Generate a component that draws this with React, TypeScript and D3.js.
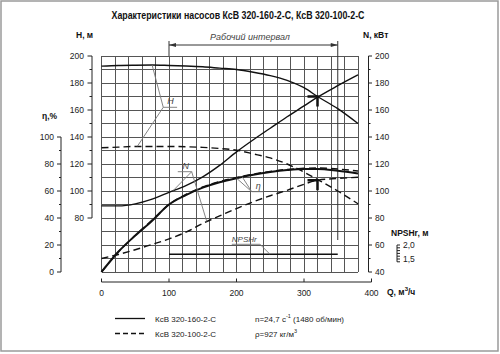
import React from "react";
import * as d3 from "d3";

// ---- data ----
const qs = [0, 25, 50, 75, 100, 125, 150, 175, 200, 225, 250, 275, 300, 320, 350, 380];
const head160 = [192.5, 193, 193.2, 193.3, 193, 192.6, 192, 191, 190, 188, 185.5, 182, 176.5, 170, 161, 150];
const head100 = [132, 132.5, 133, 133, 133, 132.8, 132.3, 131.5, 130.2, 127.5, 124.5, 120, 114, 108.5, 100, 90.5];
const power160 = [89, 89, 90.5, 94, 99, 104, 110.5, 119, 129, 138, 146.5, 155, 163, 169.5, 178, 186];
const power100 = [50, 53, 56.5, 60.5, 64.5, 69.5, 76, 81.5, 87, 92, 96.5, 100.5, 105, 108, 109.3, 110.2];
const eff160 = [0, 15, 27, 38, 50, 57, 62.5, 66.5, 69.5, 72, 74, 75.5, 76.3, 76.3, 75, 73];
const eff100 = [0, 15, 27, 38.5, 50, 57.5, 63, 67, 70, 72.5, 74.5, 76, 76.8, 77, 76.3, 74.8];
const npshQ = [100, 350];
const npshVal = [1.67, 1.67];
const workRange = [100, 350];
const opQ = 320;

const hTicks = [80, 100, 120, 140, 160, 180, 200];
const nTicks = [40, 60, 80, 100, 120, 140, 160, 180, 200];
const etaTicks = [0, 20, 40, 60, 80, 100];
const qTicks = [0, 100, 200, 300, 400];
const npshLabels = ["2,0", "1,5"];
const npshLabelVals = [2.0, 1.5];

const FONT = "'Liberation Sans', Arial, sans-serif";

export default function App() {
  const x = d3.scaleLinear().domain([0, 380]).range([101.5, 358]);
  const yM = d3.scaleLinear().domain([40, 200]).range([272, 56]);
  const yE = d3.scaleLinear().domain([0, 100]).range([272, 137]);
  const yN = d3.scaleLinear().domain([1.5, 2.0]).range([259, 245]);

  const mk = (vals: number[], ys: (v: number) => number) =>
    d3
      .line<number>()
      .x((_, i) => x(qs[i]))
      .y((v) => ys(v))
      .curve(d3.curveMonotoneX)(vals) || "";

  const interp = (vals: number[], q: number) => {
    const f = d3.scaleLinear().domain(qs).range(vals);
    return f(q);
  };

  const gridQ = d3.range(0, 381, 20);
  const gridV = d3.range(40, 201, 10);
  const gridColor = "#555";
  const leader = "#777";

  const axisColor = "#222";
  const tickFont = 8.5;

  // annotation anchor points
  const hJ = [x(91.5), yM(162)];
  const nJ = [x(133.6), yM(114.3)];
  const eJ = [x(222.5), yE(59.5)];

  return (
    <svg
      width={500}
      height={354}
      style={{ position: "absolute", left: 0, top: 0, background: "#fff" }}
      fontFamily={FONT}
    >
      <rect x={1} y={1} width={497} height={350} fill="#fff" stroke="#9a9a9a" strokeWidth={1.5} />
      <text x={238} y={19} textAnchor="middle" fontSize={10} fontWeight="bold" textLength={253} lengthAdjust="spacingAndGlyphs" fill="#111">
        Характеристики насосов КсВ 320-160-2-С, КсВ 320-100-2-С
      </text>

      {/* grid */}
      <g stroke={gridColor} strokeWidth={1} shapeRendering="crispEdges">
        {gridQ.map((q) => (
          <line key={"gv" + q} x1={x(q)} x2={x(q)} y1={yM(40)} y2={yM(200)} />
        ))}
        {gridV.map((v) => (
          <line key={"gh" + v} x1={x(0)} x2={x(380)} y1={yM(v)} y2={yM(v)} />
        ))}
      </g>

      {/* working interval */}
      <g stroke="#333" strokeWidth={1}>
        <line x1={x(workRange[0])} x2={x(workRange[0])} y1={41} y2={yM(200)} />
        <line x1={x(workRange[1])} x2={x(workRange[1])} y1={41} y2={240} />
        <line x1={x(workRange[0])} x2={x(workRange[1])} y1={45} y2={45} />
      </g>
      <path d={`M${x(workRange[0])},45 l7,-2 l0,4 z`} fill="#333" />
      <path d={`M${x(workRange[1])},45 l-7,-2 l0,4 z`} fill="#333" />
      <text x={250} y={40} textAnchor="middle" fontSize={9} fontStyle="italic" fill="#444">
        Рабочий интервал
      </text>

      {/* curves */}
      <g fill="none" stroke="#111">
        <path d={mk(head160, yM)} strokeWidth={1.4} />
        <path d={mk(head100, yM)} strokeWidth={1.4} strokeDasharray="7,4" />
        <path d={mk(power160, yM)} strokeWidth={1.4} />
        <path d={mk(power100, yM)} strokeWidth={1.4} strokeDasharray="7,4" />
        <path d={mk(eff160, yE)} strokeWidth={2} />
        <path d={mk(eff100, yE)} strokeWidth={1.4} strokeDasharray="7,4" />
        <line x1={x(npshQ[0])} x2={x(npshQ[1])} y1={yN(npshVal[0])} y2={yN(npshVal[1])} strokeWidth={1.4} />
      </g>

      {/* operating point markers */}
      <g stroke="#111" strokeWidth={2.5} fill="none">
        <path d={`M${x(opQ) - 10},${yM(interp(head160, opQ))} H${x(opQ)} V${yM(interp(head160, opQ)) + 10}`} />
        <path d={`M${x(opQ) - 10},${yM(interp(power100, opQ))} H${x(opQ)} V${yM(interp(power100, opQ)) + 10}`} />
      </g>

      {/* annotation leaders */}
      <g stroke={leader} strokeWidth={0.9} fill="none">
        <path d={`M${x(75)},${yM(interp(head160, 75))} L${hJ[0]},${hJ[1]} L${x(53)},${yM(interp(head100, 53))}`} />
        <line x1={hJ[0]} x2={x(112)} y1={hJ[1]} y2={hJ[1]} />
        <path d={`M${x(106)},${yM(interp(power160, 106))} L${nJ[0]},${nJ[1]} L${x(156)},${yM(interp(power100, 156))}`} />
        <line x1={x(113)} x2={nJ[0]} y1={nJ[1]} y2={nJ[1]} />
        <path d={`M${x(200)},${yE(interp(eff160, 200))} L${eJ[0]},${eJ[1]} L${x(208)},${yE(interp(eff100, 208))}`} />
        <line x1={eJ[0]} x2={x(239.7)} y1={eJ[1]} y2={eJ[1]} />
        <path d={`M${x(193)},${yN(2.025)} H${x(234.8)} L${x(249.6)},${yN(npshVal[0])}`} />
      </g>
      <g fontSize={9} fontStyle="italic" fill="#444">
        <text x={hJ[0] + 4} y={hJ[1] - 3}>H</text>
        <text x={x(120)} y={nJ[1] - 3}>N</text>
        <text x={eJ[0] + 4} y={eJ[1] - 3}>η</text>
        <text x={x(193)} y={yN(2.025) - 2} fontSize={8}>NPSHr</text>
      </g>

      {/* axes */}
      <g stroke={axisColor} strokeWidth={1}>
        <line x1={92} x2={92} y1={yM(200)} y2={yM(80)} />
        {d3.range(80, 201, 10).map((v) => (
          <line key={"ht" + v} x1={v % 20 === 0 ? 87.5 : 89.5} x2={92} y1={yM(v)} y2={yM(v)} />
        ))}
        <line x1={61} x2={61} y1={yE(100)} y2={yE(0)} />
        {d3.range(0, 101, 10).map((v) => (
          <line key={"et" + v} x1={v % 20 === 0 ? 57 : 59} x2={61} y1={yE(v)} y2={yE(v)} />
        ))}
        <line x1={368.5} x2={368.5} y1={yM(200)} y2={yM(40)} />
        {d3.range(40, 201, 10).map((v) => (
          <line key={"nt" + v} x1={368.5} x2={v % 20 === 0 ? 372 : 370.5} y1={yM(v)} y2={yM(v)} />
        ))}
        <line x1={x(0)} x2={x(400)} y1={282} y2={282} />
        {qTicks.map((q) => (
          <line key={"qt" + q} x1={x(q)} x2={x(q)} y1={278.5} y2={282} />
        ))}
        <line x1={397} x2={397} y1={yN(2.0)} y2={yN(1.4)} />
        {d3.range(14, 21, 1).map((v) => (
          <line key={"pt" + v} x1={397} x2={400} y1={yN(v / 10)} y2={yN(v / 10)} />
        ))}
      </g>
      <g fontSize={tickFont} fill="#222">
        {hTicks.map((v) => (
          <text key={"hl" + v} x={84} y={yM(v) + 3} textAnchor="end">{v}</text>
        ))}
        {etaTicks.map((v) => (
          <text key={"el" + v} x={54} y={yE(v) + 3} textAnchor="end">{v}</text>
        ))}
        {nTicks.map((v) => (
          <text key={"nl" + v} x={375} y={yM(v) + 3}>{v}</text>
        ))}
        {qTicks.map((q) => (
          <text key={"ql" + q} x={x(q)} y={296} textAnchor="middle">{q}</text>
        ))}
        {npshLabels.map((s, i) => (
          <text key={"pl" + s} x={403} y={yN(npshLabelVals[i]) + 3}>{s}</text>
        ))}
      </g>

      {/* axis titles */}
      <g fontSize={8.5} fontWeight="bold" fill="#111">
        <text x={76} y={38}>H, м</text>
        <text x={363} y={38}>N, кВт</text>
        <text x={42} y={119}>η,%</text>
        <text x={391} y={236}>NPSHr, м</text>
        <text x={387} y={295}>Q, м<tspan dy={-4} fontSize={6}>3</tspan><tspan dy={4}>/ч</tspan></text>
      </g>

      {/* legend */}
      <g stroke="#111" strokeWidth={1.3}>
        <line x1={115} x2={145} y1={318.5} y2={318.5} />
        <line x1={115} x2={145} y1={333.5} y2={333.5} strokeDasharray="5,3" />
      </g>
      <g fontSize={8} fill="#222">
        <text x={155} y={321.5}>КсВ 320-160-2-С</text>
        <text x={155} y={336.5}>КсВ 320-100-2-С</text>
        <text x={255} y={321.5}>n=24,7 с<tspan dy={-4} fontSize={5.5}>-1</tspan><tspan dy={4}> (1480 об/мин)</tspan></text>
        <text x={255} y={336.5}>ρ=927 кг/м<tspan dy={-4} fontSize={5.5}>3</tspan></text>
      </g>
    </svg>
  );
}
